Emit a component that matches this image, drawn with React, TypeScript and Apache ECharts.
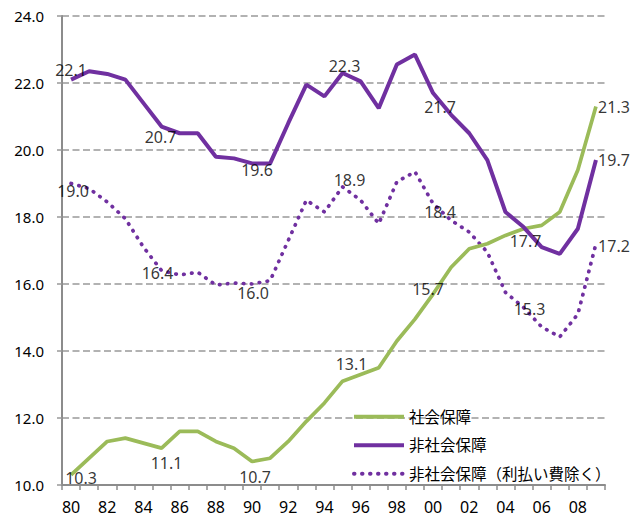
import React, { useEffect, useRef } from "react";
import * as echarts from "echarts";

// Fiscal years 1980 - 2009
const years: number[] = [
  1980, 1981, 1982, 1983, 1984, 1985, 1986, 1987, 1988, 1989,
  1990, 1991, 1992, 1993, 1994, 1995, 1996, 1997, 1998, 1999,
  2000, 2001, 2002, 2003, 2004, 2005, 2006, 2007, 2008, 2009,
];

const seriesNames: string[] = ["社会保障", "非社会保障", "非社会保障（利払い費除く）"];

const socialSecurity: number[] = [
  10.3, 10.8, 11.3, 11.4, 11.25, 11.1, 11.6, 11.6, 11.3, 11.1,
  10.7, 10.8, 11.3, 11.9, 12.45, 13.1, 13.3, 13.5, 14.3, 14.95,
  15.7, 16.5, 17.05, 17.2, 17.45, 17.65, 17.75, 18.15, 19.4, 21.3,
];

const nonSocialSecurity: number[] = [
  22.1, 22.35, 22.27, 22.1, 21.4, 20.7, 20.5, 20.5, 19.8, 19.75,
  19.6, 19.6, 20.8, 21.95, 21.6, 22.3, 22.05, 21.25, 22.55, 22.85,
  21.7, 21.05, 20.5, 19.7, 18.15, 17.7, 17.1, 16.9, 17.65, 19.7,
];

const nonSocialExInterest: number[] = [
  19.0, 18.85, 18.45, 17.95, 17.1, 16.4, 16.27, 16.35, 15.97, 16.03,
  16.0, 16.1, 17.3, 18.5, 18.15, 18.9, 18.5, 17.8, 19.05, 19.35,
  18.4, 17.9, 17.55, 16.95, 15.75, 15.3, 14.72, 14.42, 15.1, 17.2,
];

const yTicks = { min: 10, max: 24, interval: 2 };

// label placement (index -> pixel offset of label centre from point)
const socialLabels: [number, number, number][] = [
  [0, 10, 3], [5, 5, 15], [10, 3, 15], [15, 9, -17], [20, -5, -5], [29, 18, 1],
];
const nonSocialLabels: [number, number, number][] = [
  [0, 0, -10], [5, -1, 10], [10, 5, 7], [15, 2, -7], [20, 7, 14], [25, 2, 14], [29, 18, 0],
];
const exInterestLabels: [number, number, number][] = [
  [0, 2, 7], [5, -4, 2], [10, 1, 9], [15, 7, -7], [20, 7, 8], [25, 6, 2], [29, 18, 2],
];

const GREEN = "#9BBB59";
const PURPLE = "#7030A0";
const AXIS_GRAY = "#8c8c8c";
const FONT = "'Noto Sans', 'Noto Sans CJK JP', sans-serif";

function labelSeries(values: number[], labels: [number, number, number][]) {
  const data: any[] = values.map(() => "-");
  labels.forEach(([i, dx, dy]) => {
    data[i] = { value: values[i], label: { offset: [dx, dy] } };
  });
  return {
    type: "scatter",
    data,
    symbolSize: 1,
    itemStyle: { color: "transparent" },
    silent: true,
    z: 10,
    label: {
      show: true,
      position: "inside",
      color: "#000",
      fontSize: 16,
      fontFamily: FONT,
      formatter: (p: any) => Number(p.value).toFixed(1),
    },
  };
}

export default function App() {
  const ref = useRef<HTMLDivElement>(null);

  useEffect(() => {
    if (!ref.current) return;
    const chart = echarts.init(ref.current, undefined, { renderer: "svg" });
    chart.setOption({
      animation: false,
      backgroundColor: "#fff",
      textStyle: { fontFamily: FONT },
      grid: { left: 62, right: 35, top: 16, bottom: 33 },
      legend: {
        data: seriesNames,
        orient: "vertical",
        left: 352,
        top: 409,
        padding: 0,
        itemWidth: 50,
        itemHeight: 14,
        itemGap: 13,
        itemStyle: { opacity: 0 },
        lineStyle: { width: 4 },
        textStyle: { fontSize: 15.5, color: "#000", fontFamily: FONT },
      },
      xAxis: {
        type: "category",
        data: years.map(String),
        boundaryGap: true,
        axisLine: { show: true, lineStyle: { color: AXIS_GRAY, width: 2 } },
        axisTick: { show: true, interval: 0, length: 5, lineStyle: { color: AXIS_GRAY, width: 1.5 } },
        axisLabel: {
          interval: 1,
          margin: 14,
          fontSize: 16,
          lineHeight: 16,
          color: "#000",
          fontFamily: FONT,
          formatter: (v: string) => v.slice(2),
        },
        splitLine: { show: false },
      },
      yAxis: {
        type: "value",
        min: yTicks.min,
        max: yTicks.max,
        interval: yTicks.interval,
        axisLine: { show: true, lineStyle: { color: AXIS_GRAY, width: 2 } },
        axisTick: { show: true, length: 5, lineStyle: { color: "#999", width: 1.5 } },
        axisLabel: {
          margin: 18,
          fontSize: 15,
          color: "#000",
          fontFamily: FONT,
          formatter: (v: number) => v.toFixed(1),
        },
        splitLine: { show: true, lineStyle: { color: "#999", width: 1.5, type: [7, 3.5] } },
      },
      series: [
        {
          name: seriesNames[0],
          type: "line",
          data: socialSecurity,
          symbol: "none",
          color: GREEN,
          lineStyle: { color: GREEN, width: 3.7 },
          z: 3,
        },
        {
          name: seriesNames[1],
          type: "line",
          data: nonSocialSecurity,
          symbol: "none",
          color: PURPLE,
          lineStyle: { color: PURPLE, width: 4 },
          z: 4,
        },
        {
          name: seriesNames[2],
          type: "line",
          data: nonSocialExInterest,
          symbol: "none",
          color: PURPLE,
          lineStyle: { color: PURPLE, width: 3.7, type: [0.5, 7.5], cap: "round" },
          z: 2,
        },
        labelSeries(socialSecurity, socialLabels),
        labelSeries(nonSocialSecurity, nonSocialLabels),
        labelSeries(nonSocialExInterest, exInterestLabels),
      ],
    });
    return () => chart.dispose();
  }, []);

  return (
    <div
      ref={ref}
      style={{ position: "fixed", left: 0, top: 0, width: 640, height: 518 }}
    />
  );
}
